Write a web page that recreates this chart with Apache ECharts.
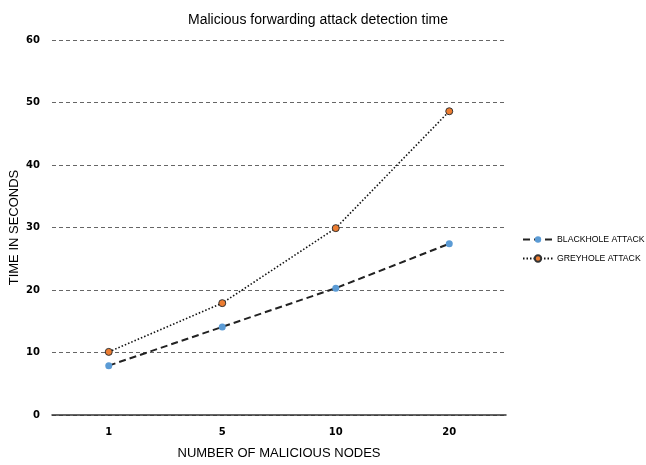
<!DOCTYPE html>
<html>
<head>
<meta charset="utf-8">
<script src="https://cdn.jsdelivr.net/npm/echarts@6/dist/echarts.min.js"></script>
<style>
  html, body { margin: 0; padding: 0; background: #fff; }
  #chart { width: 646px; height: 465px; }
</style>
</head>
<body>
<div id="chart"></div>
<script>
var categories = ['1', '5', '10', '20'];
var blackhole = [7.9, 14.1, 20.3, 27.4];
var greyhole = [10.1, 17.9, 29.9, 48.6];

var chart = echarts.init(document.getElementById('chart'));

var option = {
    animation: false,
    title: {
        text: 'Malicious forwarding attack detection time',
        left: 313,
        textAlign: 'center',
        top: 8,
        textStyle: { fontFamily: 'Liberation Sans', fontSize: 14, fontWeight: 'normal', color: '#000' }
    },
    grid: { left: 52, right: 140, top: 40, bottom: 50, outerBoundsMode: 'none' },
    legend: {
        orient: 'vertical',
        left: 517,
        top: 230,
        padding: [5, 0, 5, 5],
        itemGap: 10,
        itemWidth: 30,
        itemHeight: 8,
        textStyle: { fontFamily: 'Liberation Sans', fontSize: 8.7, color: '#000', padding: [0, 0, 0, -1] },
        data: ['BLACKHOLE ATTACK', 'GREYHOLE ATTACK']
    },
    xAxis: {
        type: 'category',
        data: categories,
        name: 'NUMBER OF MALICIOUS NODES',
        nameLocation: 'middle',
        nameGap: 32,
        nameTextStyle: { fontFamily: 'Liberation Sans', fontSize: 13, color: '#000' },
        axisLine: { lineStyle: { color: '#333', width: 1.5 } },
        axisTick: { show: false },
        axisLabel: { fontFamily: 'DejaVu Sans', fontWeight: 'bold', fontSize: 10, color: '#000', margin: 12 }
    },
    yAxis: {
        type: 'value',
        min: 0,
        max: 60,
        interval: 10,
        name: 'TIME IN SECONDS',
        nameLocation: 'middle',
        nameGap: 31,
        nameMoveOverlap: false,
        nameTextStyle: { fontFamily: 'Liberation Sans', fontSize: 13, color: '#000' },
        axisLine: { show: false },
        axisTick: { show: false },
        axisLabel: { fontFamily: 'DejaVu Sans', fontWeight: 'bold', fontSize: 10, color: '#000', margin: 12 },
        splitLine: { lineStyle: { color: '#666', type: [4, 3], width: 1 } }
    },
    series: [
        {
            name: 'BLACKHOLE ATTACK',
            type: 'line',
            data: blackhole,
            symbol: 'circle',
            symbolSize: 7,
            itemStyle: { color: '#5b9bd5', borderWidth: 0 },
            lineStyle: { color: '#222', width: 2, type: [7, 4] },
            z: 3
        },
        {
            name: 'GREYHOLE ATTACK',
            type: 'line',
            data: greyhole,
            symbol: 'circle',
            symbolSize: 7,
            itemStyle: { color: '#ed7d31', borderColor: '#333', borderWidth: 1 },
            lineStyle: { color: '#111', width: 1.6, type: [1.5, 2] },
            z: 4
        }
    ]
};

chart.setOption(option);
</script>
</body>
</html>
